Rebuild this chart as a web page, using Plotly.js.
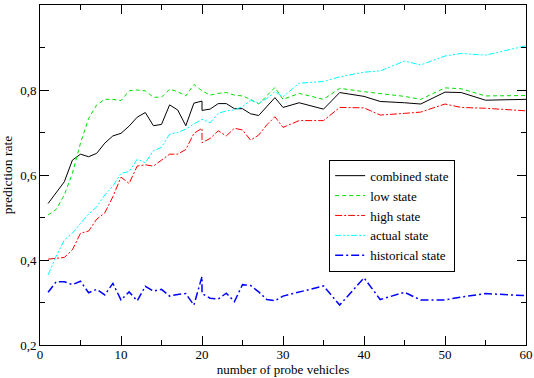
<!DOCTYPE html>
<html>
<head>
<meta charset="utf-8">
<script src="https://cdn.plot.ly/plotly-3.0.1.min.js"></script>
<style>
  html, body { margin: 0; padding: 0; background: #fff; }
  #chart { width: 534px; height: 378px; }
</style>
</head>
<body>
<div id="chart"></div>
<script>
// number of probe vehicles (20 appears twice: the curves jump there)
const probes = [1, 2, 3, 4, 5, 6, 7, 8, 9, 10, 11, 12, 13, 14, 15, 16, 17, 18, 19, 20, 20,
    21, 22, 23, 24, 25, 26, 27, 28, 29, 30, 32, 35, 37, 40, 42, 45, 47, 50, 52, 55, 60];

const combinedState = [0.533, 0.558, 0.584, 0.635, 0.649, 0.643, 0.651, 0.675, 0.692, 0.698,
    0.715, 0.736, 0.747, 0.716, 0.719, 0.765, 0.753, 0.716, 0.769, 0.774, 0.752,
    0.755, 0.768, 0.768, 0.756, 0.756, 0.744, 0.740, 0.762, 0.782, 0.759,
    0.770, 0.755, 0.794, 0.785, 0.773, 0.770, 0.767, 0.795, 0.794, 0.776, 0.778];

const lowState = [0.506, 0.519, 0.553, 0.604, 0.675, 0.733, 0.765, 0.778, 0.778, 0.775,
    0.798, 0.800, 0.798, 0.783, 0.783, 0.802, 0.796, 0.786, 0.813, 0.798, 0.798,
    0.788, 0.792, 0.794, 0.788, 0.786, 0.778, 0.767, 0.786, 0.806, 0.778,
    0.792, 0.778, 0.804, 0.796, 0.791, 0.785, 0.778, 0.805, 0.803, 0.786, 0.787];

const highState = [0.402, 0.404, 0.406, 0.424, 0.463, 0.468, 0.496, 0.511, 0.549, 0.595,
    0.580, 0.621, 0.624, 0.621, 0.635, 0.649, 0.649, 0.660, 0.698, 0.710, 0.676,
    0.686, 0.704, 0.692, 0.710, 0.706, 0.682, 0.694, 0.718, 0.737, 0.712,
    0.728, 0.728, 0.759, 0.758, 0.741, 0.745, 0.748, 0.767, 0.759, 0.757, 0.751];

const actualState = [0.365, 0.409, 0.447, 0.463, 0.486, 0.508, 0.525, 0.553, 0.574, 0.604,
    0.608, 0.637, 0.629, 0.657, 0.665, 0.696, 0.700, 0.708, 0.720, 0.731, 0.731,
    0.723, 0.745, 0.751, 0.753, 0.761, 0.776, 0.769, 0.780, 0.796, 0.784,
    0.816, 0.820, 0.831, 0.842, 0.845, 0.868, 0.859, 0.880, 0.886, 0.882, 0.904];

const historicalState = [0.324, 0.349, 0.349, 0.342, 0.350, 0.323, 0.331, 0.318, 0.345, 0.306,
    0.325, 0.304, 0.338, 0.327, 0.331, 0.315, 0.319, 0.321, 0.294, 0.361, 0.321,
    0.310, 0.308, 0.322, 0.302, 0.342, 0.340, 0.325, 0.307, 0.304, 0.315,
    0.325, 0.339, 0.294, 0.358, 0.307, 0.324, 0.306, 0.306, 0.313, 0.321, 0.316];

const yTickVals = [0.2, 0.4, 0.6, 0.8, 1];
const yTickText = ["0,2", "0,4", "0,6", "0,8", "1"];

const font = "'Liberation Serif', serif";

function trace(name, y, color, dash, width) {
    return {
        x: probes, y: y, name: name,
        type: "scatter", mode: "lines",
        line: {color: color, dash: dash, width: width}
    };
}

const traces = [
    trace("combined state", combinedState, "#000000", "solid", 1),
    trace("low state", lowState, "#00e000", "4px,3px", 1),
    trace("high state", highState, "#ff0000", "7px,2px,2px,2px", 1),
    trace("actual state", actualState, "#00ffff", "6px,2px,2px,2px,2px,2px", 1),
    trace("historical state", historicalState, "#0000ff", "8px,3px,2px,3px", 1.5)
];

const axisCommon = {
    showgrid: false, zeroline: false,
    showline: true, linecolor: "#000", linewidth: 1,
    mirror: "allticks",
    ticks: "inside", ticklen: 9, tickcolor: "#000", tickwidth: 1,
    tickfont: {family: font, size: 13, color: "#000"}
};

Plotly.newPlot("chart", traces, {
    width: 534, height: 378,
    margin: {l: 40, r: 8, t: 5, b: 33},
    paper_bgcolor: "#fff", plot_bgcolor: "#fff",
    font: {family: font, size: 13, color: "#000"},
    showlegend: true,
    legend: {
        x: 0.595, y: 0.545, xanchor: "left", yanchor: "top",
        bordercolor: "#000", borderwidth: 1, bgcolor: "#fff",
        font: {family: font, size: 13, color: "#000"},
        tracegroupgap: 0, itemwidth: 30
    },
    xaxis: Object.assign({}, axisCommon, {
        range: [0, 60], tickvals: [0, 10, 20, 30, 40, 50, 60],
        ticklabelstandoff: -3,
        minor: {tickvals: [5, 15, 25, 35, 45, 55], ticks: "inside", ticklen: 5, tickcolor: "#000"},
        title: {text: "number of probe vehicles", font: {family: font, size: 13}, standoff: 3}
    }),
    yaxis: Object.assign({}, axisCommon, {
        range: [0.2, 1], tickvals: yTickVals, ticktext: yTickText,
        minor: {tickvals: [0.3, 0.5, 0.7, 0.9], ticks: "inside", ticklen: 5, tickcolor: "#000"},
        title: {text: "prediction rate", font: {family: font, size: 13.5}, standoff: 4}
    })
}, {displayModeBar: false});
</script>
</body>
</html>
